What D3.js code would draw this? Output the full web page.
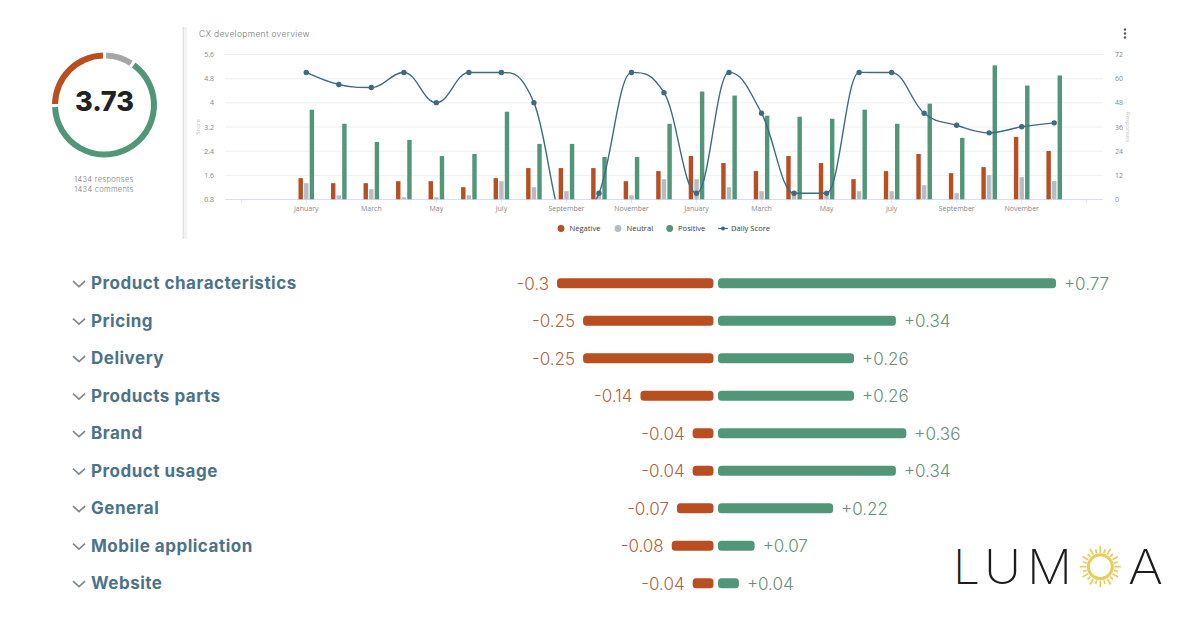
<!DOCTYPE html>
<html>
<head>
	<title>CX development overview</title>
	<meta charset="utf-8">
	<script src="https://d3js.org/d3.v7.min.js"></script>
	<style>
		html, body { margin: 0; padding: 0; background: #fff; }
		svg { display: block; }
		text { font-family: Inter, "Noto Sans", sans-serif; }
		.oh { font-family: "Open Sans", sans-serif; }
	</style>
</head>
<body>
<svg id="chart" width="1200" height="630"></svg>

<script>
	// months of the overview chart, blanks are the padding slots at both ends
	var months = ['', '', 'January', 'February', 'March', 'April', 'May', 'June', 'July', 'August', 'September', 'October', 'November', 'December',
		'January', 'February', 'March', 'April', 'May', 'June', 'July', 'August', 'September', 'October', 'November', 'December', ''];
	var negative = [10.5, 8, 8, 9, 9, 6, 10.5, 15.5, 15.5, 15.5, 9, 14, 21.5, 18, 14, 21.5, 18, 10, 14, 22.5, 13, 16, 31, 24];
	var neutral = [8, 2, 5, 1, 1, 2, 9, 6, 4, 3, 2, 10, 10, 6, 4, 3, 2, 4, 4, 7, 3, 12, 11, 9];
	var positive = [44.5, 37.5, 28.5, 29.5, 21.5, 22.5, 43.5, 27.5, 27.5, 21, 21, 37.5, 53.5, 51.5, 41.5, 41, 40, 44.5, 37.5, 47.5, 30.5, 66.5, 56.5, 61.5];
	var dailyScore = [5, 4.6, 4.5, 5, 4, 5, 5, 4, 0, 1, 5, 4.33, 1, 5, 3.65, 1, 1, 5, 5, 3.65, 3.25, 3, 3.2, 3.33];
	var scoreTicks = [0.8, 1.6, 2.4, 3.2, 4, 4.8, 5.6];
	var responseTicks = [0, 12, 24, 36, 48, 60, 72];

	// driver rows
	var topics = ['Product characteristics', 'Pricing', 'Delivery', 'Products parts', 'Brand', 'Product usage', 'General', 'Mobile application', 'Website'];
	var topicNegative = [-0.3, -0.25, -0.25, -0.14, -0.04, -0.04, -0.07, -0.08, -0.04];
	var topicPositive = [0.77, 0.34, 0.26, 0.26, 0.36, 0.34, 0.22, 0.07, 0.04];

	// donut, clockwise from 12 o'clock
	var donutShares = [9, 66, 25];
	var donutColors = ['#a6a6a6', '#52967a', '#b94e20'];

	var RED = '#b94e20', GREY = '#b4bcc6', GREEN = '#52967a', LINE = '#3f6b80';

	var svg = d3.select('#chart');

	// ---- donut ----
	var donut = svg.append('g').attr('transform', 'translate(104.5,105)');
	var pie = d3.pie().sort(null).padAngle(0.045);
	var arc = d3.arc().innerRadius(46.5).outerRadius(52.5);
	donut.selectAll('path').data(pie(donutShares)).enter().append('path')
		.attr('d', arc)
		.attr('fill', function(d, i) { return donutColors[i]; });
	donut.append('text').attr('text-anchor', 'middle').attr('y', 5.5)
		.attr('font-size', 27).attr('font-weight', 800).attr('fill', '#222').text('3.73');
	svg.append('text').attr('x', 104).attr('y', 182).attr('text-anchor', 'middle')
		.attr('font-size', 7.5).attr('font-weight', 300).attr('letter-spacing', 0.3).attr('fill', '#7c7c7c').text('1434 responses');
	svg.append('text').attr('x', 104).attr('y', 192).attr('text-anchor', 'middle')
		.attr('font-size', 7.5).attr('font-weight', 300).attr('letter-spacing', 0.3).attr('fill', '#7c7c7c').text('1434 comments');

	// ---- overview chart ----
	var left = 225, right = 1103, top_ = 54.3, bottom = 199.3;
	var x = d3.scaleBand().domain(d3.range(months.length)).range([left, right]);
	var yScore = d3.scaleLinear().domain([0.8, 5.6]).range([bottom, top_]);
	var yResp = d3.scaleLinear().domain([0, 72]).range([bottom, top_]);
	var series = d3.scaleBand().domain(['negative', 'neutral', 'positive']).range([-7.8, 7.8]).paddingInner(0.21);

	svg.append('rect').attr('x', 182).attr('y', 27).attr('width', 5).attr('height', 212).attr('fill', '#f3f3f3');
	svg.append('rect').attr('x', 183).attr('y', 27).attr('width', 1).attr('height', 212).attr('fill', '#e2e2e2');

	svg.append('text').attr('x', 199).attr('y', 37).attr('font-size', 8.5).attr('font-weight', 300)
		.attr('letter-spacing', 0.3).attr('fill', '#777').text('CX development overview');

	// kebab menu
	svg.selectAll('.dot').data([29.5, 33.5, 37.5]).enter().append('circle')
		.attr('cx', 1125).attr('cy', function(d) { return d; }).attr('r', 1.2).attr('fill', '#555');

	svg.append('g').selectAll('line').data(scoreTicks).enter().append('line')
		.attr('x1', left).attr('x2', right)
		.attr('y1', function(d) { return yScore(d) + 0.2; })
		.attr('y2', function(d) { return yScore(d) + 0.2; })
		.attr('stroke', function(d, i) { return i == 0 ? '#ccd6eb' : '#e9ebef'; }).attr('stroke-width', 0.8);

	// left and right axes, only the labels are visible
	var axisL = svg.append('g').attr('transform', 'translate(217,0)')
		.call(d3.axisLeft(yScore).tickValues(scoreTicks).tickSize(0).tickFormat(function(d) { return String(d); }));
	var axisR = svg.append('g').attr('transform', 'translate(1112,0)')
		.call(d3.axisRight(yResp).tickValues(responseTicks).tickSize(0));
	var axisB = svg.append('g').attr('transform', 'translate(0,' + bottom + ')')
		.call(d3.axisBottom(x).tickValues(d3.range(0, months.length, 2)).tickSize(4).tickPadding(3)
			.tickFormat(function(d) { return months[d]; }));
	[axisL, axisR, axisB].forEach(function(a) {
		a.select('.domain').remove();
		a.selectAll('text').attr('class', 'oh').attr('font-size', 7).attr('fill', '#85898e');
		a.selectAll('line').attr('stroke', '#ccd6eb').attr('stroke-width', 0.6);
	});

	svg.append('text').attr('class', 'oh').attr('transform', 'translate(199.5,127) rotate(-90)')
		.attr('text-anchor', 'middle').attr('font-size', 6).attr('fill', '#bdbdbd').text('Score');
	svg.append('text').attr('class', 'oh').attr('transform', 'translate(1126,127) rotate(90)')
		.attr('text-anchor', 'middle').attr('font-size', 6).attr('fill', '#c4c4c4').text('Responses');

	// bars
	var slots = months.map(function(m, i) { return i; }).filter(function(i) { return months[i] != ''; });
	[['negative', negative, RED], ['neutral', neutral, GREY], ['positive', positive, GREEN]].forEach(function(s) {
		svg.append('g').selectAll('rect').data(s[1]).enter().append('rect')
			.attr('x', function(d, i) { return x(slots[i]) + x.bandwidth() / 2 + series(s[0]); })
			.attr('width', series.bandwidth())
			.attr('y', function(d) { return yResp(d); })
			.attr('height', function(d) { return yResp(0) - yResp(d); })
			.attr('fill', s[2]);
	});

	// spline the same way the original charting library smooths its line
	function splineCurve(context) {
		var pts;
		return {
			areaStart: function() {},
			areaEnd: function() {},
			lineStart: function() { pts = []; },
			point: function(px, py) { pts.push([+px, +py]); },
			lineEnd: function() {
				var k = 1.5, d = 2.5, prevRx, prevRy;
				pts.forEach(function(p, i) {
					var lx = p[0], ly = p[1], rx = p[0], ry = p[1];
					if (i > 0 && i < pts.length - 1) {
						var a = pts[i - 1], b = pts[i + 1];
						lx = (k * p[0] + a[0]) / d; ly = (k * p[1] + a[1]) / d;
						rx = (k * p[0] + b[0]) / d; ry = (k * p[1] + b[1]) / d;
						var c = (ry - ly) * (rx - p[0]) / (rx - lx) + p[1] - ry;
						ly += c; ry += c;
						if (ly > a[1] && ly > p[1]) { ly = Math.max(a[1], p[1]); ry = 2 * p[1] - ly; }
						else if (ly < a[1] && ly < p[1]) { ly = Math.min(a[1], p[1]); ry = 2 * p[1] - ly; }
						if (ry > b[1] && ry > p[1]) { ry = Math.max(b[1], p[1]); ly = 2 * p[1] - ry; }
						else if (ry < b[1] && ry < p[1]) { ry = Math.min(b[1], p[1]); ly = 2 * p[1] - ry; }
					}
					if (i == 0) context.moveTo(p[0], p[1]);
					else context.bezierCurveTo(prevRx, prevRy, lx, ly, p[0], p[1]);
					prevRx = rx; prevRy = ry;
				});
			}
		};
	}

	svg.append('clipPath').attr('id', 'plot').append('rect')
		.attr('x', left).attr('y', top_).attr('width', right - left).attr('height', bottom - top_);
	var lineG = svg.append('g').attr('clip-path', 'url(#plot)');
	var line = d3.line()
		.x(function(d, i) { return x(slots[i]) + x.bandwidth() / 2; })
		.y(function(d) { return yScore(d); })
		.curve(splineCurve);
	lineG.append('path').datum(dailyScore).attr('d', line)
		.attr('fill', 'none').attr('stroke', LINE).attr('stroke-width', 1.4);
	lineG.selectAll('circle').data(dailyScore).enter().append('circle')
		.attr('cx', function(d, i) { return x(slots[i]) + x.bandwidth() / 2; })
		.attr('cy', function(d) { return yScore(d); })
		.attr('r', 2.7).attr('fill', LINE);

	// legend
	var legend = [['Negative', RED, 561, 569.5], ['Neutral', GREY, 618, 626.5], ['Positive', GREEN, 669.7, 678]];
	legend.forEach(function(l) {
		svg.append('circle').attr('cx', l[2]).attr('cy', 228.5).attr('r', 3.4).attr('fill', l[1]);
		svg.append('text').attr('class', 'oh').attr('x', l[3]).attr('y', 231.3)
			.attr('font-size', 7.6).attr('font-weight', 500).attr('fill', '#3a3a3a').text(l[0]);
	});
	svg.append('line').attr('x1', 718).attr('x2', 728).attr('y1', 228.5).attr('y2', 228.5).attr('stroke', LINE).attr('stroke-width', 1.2);
	svg.append('circle').attr('cx', 723).attr('cy', 228.5).attr('r', 2).attr('fill', LINE);
	svg.append('text').attr('class', 'oh').attr('x', 731).attr('y', 231.3)
		.attr('font-size', 7.6).attr('font-weight', 500).attr('fill', '#3a3a3a').text('Daily Score');

	// ---- topic rows ----
	var rowY = d3.scalePoint().domain(topics).range([283.3, 583.3]);
	// the top bar stops short of its value in the original, hence the clamp
	var posW = d3.scaleLinear().domain([0, 0.646]).range([718, 1056]).clamp(true);
	var negW = d3.scaleLinear().domain([-0.3, 0]).range([557, 713.5]);

	var rows = svg.append('g').selectAll('g').data(topics).enter().append('g')
		.attr('transform', function(d) { return 'translate(0,' + rowY(d) + ')'; });

	rows.append('path').attr('d', 'M73,-2.2L79,3.4L85,-2.2')
		.attr('fill', 'none').attr('stroke', '#7d8a91').attr('stroke-width', 1.7);
	rows.append('text').attr('x', 91).attr('y', 6)
		.attr('font-size', 17).attr('font-weight', 700).attr('letter-spacing', 0.5).attr('fill', '#4c7388')
		.text(function(d) { return d; });

	rows.append('rect')
		.attr('x', function(d, i) { return negW(topicNegative[i]); })
		.attr('y', -5).attr('height', 10).attr('rx', 3.5)
		.attr('width', function(d, i) { return negW(0) - negW(topicNegative[i]); })
		.attr('fill', RED);
	rows.append('rect')
		.attr('x', posW(0))
		.attr('y', -5).attr('height', 10).attr('rx', 3.5)
		.attr('width', function(d, i) { return posW(topicPositive[i]) - posW(0); })
		.attr('fill', GREEN);

	rows.append('text').attr('text-anchor', 'end')
		.attr('x', function(d, i) { return negW(topicNegative[i]) - 8; })
		.attr('y', 6.5).attr('font-size', 17).attr('font-weight', 300).attr('fill', '#b25f3f')
		.text(function(d, i) { return String(topicNegative[i]); });
	rows.append('text')
		.attr('x', function(d, i) { return posW(topicPositive[i]) + 8; })
		.attr('y', 6.5).attr('font-size', 17).attr('font-weight', 300).attr('fill', '#659079')
		.text(function(d, i) { return '+' + topicPositive[i]; });

	// ---- logo ----
	var logo = svg.append('g').attr('font-size', 48).attr('font-weight', 250).attr('fill', '#1c1c1c');
	[['L', 953, 27], ['U', 984, 37], ['M', 1027, 45], ['A', 1128, 35]].forEach(function(l) {
		logo.append('text').attr('x', l[1]).attr('y', 584)
			.attr('textLength', l[2]).attr('lengthAdjust', 'spacingAndGlyphs').text(l[0]);
	});
	var sun = svg.append('g').attr('transform', 'translate(1100.3,566.7)');
	sun.append('circle').attr('r', 12).attr('fill', 'none').attr('stroke', '#e8cc5e').attr('stroke-width', 3);
	sun.selectAll('line').data(d3.range(24)).enter().append('line')
		.attr('transform', function(d) { return 'rotate(' + d * 15 + ')'; })
		.attr('x1', 14).attr('x2', function(d) { return d % 2 ? 18 : 20.5; })
		.attr('stroke', '#e8cc5e').attr('stroke-width', 1.7);
</script>
</body>
</html>
